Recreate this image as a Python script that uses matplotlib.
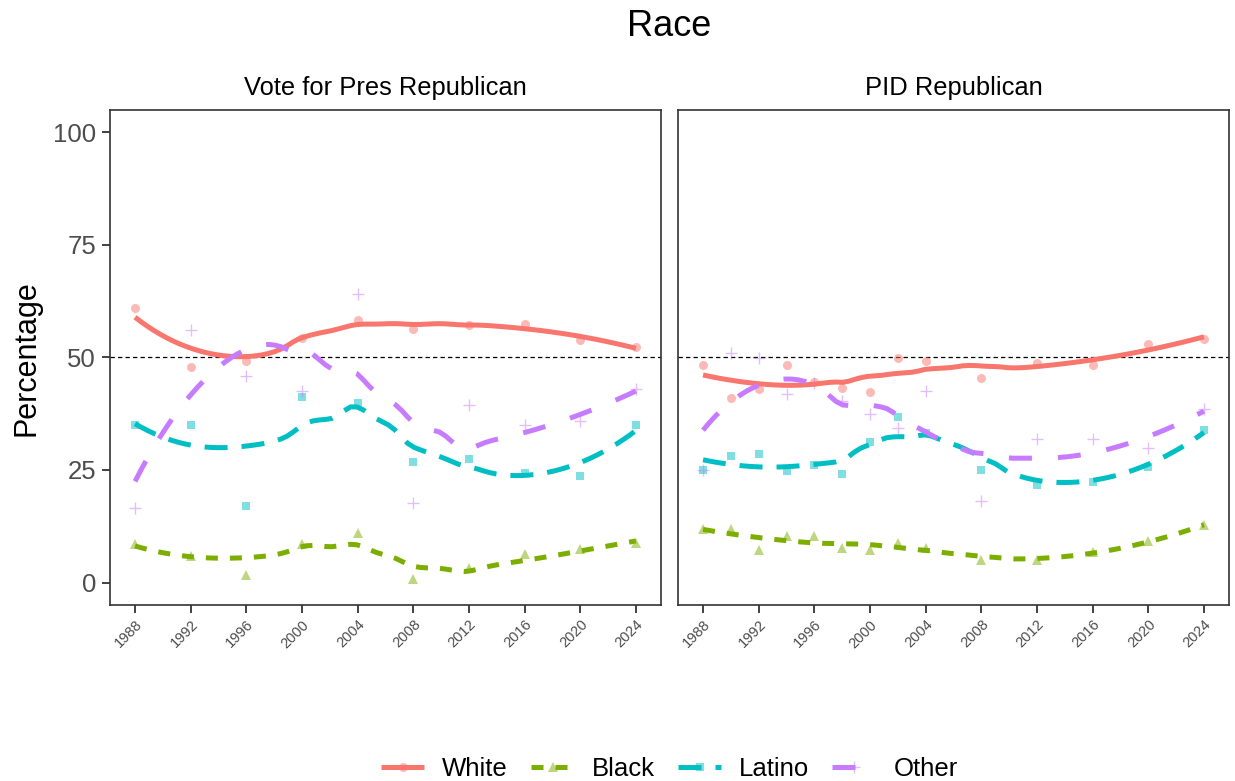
import numpy as np
import matplotlib.pyplot as plt
from matplotlib.lines import Line2D

plt.rcParams['font.family'] = ['Liberation Sans', 'DejaVu Sans']

# Vote for president: share voting Republican by race
years_vote = [1988, 1992, 1996, 2000, 2004, 2008, 2012, 2016, 2020, 2024]
vote_white = [61.0, 47.9, 49.3, 54.4, 58.4, 56.4, 57.2, 57.5, 53.8, 52.3]
vote_black = [8.6, 5.8, 1.6, 8.6, 10.9, 0.7, 3.3, 6.4, 7.5, 8.8]
vote_latino = [34.9, 35.1, 17.0, 41.3, 39.8, 26.8, 27.5, 24.4, 23.6, 35.1]
vote_other = [16.6, 56.2, 45.9, 42.5, 64.0, 17.7, 39.4, 35.1, 35.9, 42.9]

# Party ID: share identifying as Republican by race
years_pid = [1988, 1990, 1992, 1994, 1996, 1998, 2000, 2002, 2004,
             2008, 2012, 2016, 2020, 2024]
pid_white = [48.3, 41.0, 43.0, 48.3, 44.5, 43.3, 42.3, 49.8, 49.3,
             45.5, 48.8, 48.3, 53.0, 54.1]
pid_black = [11.9, 11.8, 7.3, 10.3, 10.3, 7.7, 7.3, 8.8, 7.7,
             5.0, 4.9, 6.8, 9.2, 12.7]
pid_latino = [25.1, 28.2, 28.6, 24.7, 26.1, 24.2, 31.3, 36.8, 33.3,
              24.9, 21.6, 22.4, 25.6, 33.8]
pid_other = [25.0, 51.0, 49.9, 42.0, 44.4, 40.4, 37.5, 34.4, 42.5,
             18.2, 31.8, 32.0, 29.8, 38.6]

groups = ['White', 'Black', 'Latino', 'Other']
colors = ['#F8766D', '#7CAE00', '#00BFC4', '#C77CFF']
markers = ['o', '^', 's', '+']
msizes = [6.5, 7.5, 6.0, 9.0]
dash_styles = [None, (2.4, 2.4), (4.6, 2.8), (4.6, 5.2)]

panels = [
    ('Vote for Pres Republican', years_vote,
     [vote_white, vote_black, vote_latino, vote_other]),
    ('PID Republican', years_pid,
     [pid_white, pid_black, pid_latino, pid_other]),
]


def loess(x, y, xs, span=0.75):
    # local quadratic fit with tricube weights (like R's loess defaults)
    x = np.asarray(x, float)
    y = np.asarray(y, float)
    n = len(x)
    q = int(np.floor(n * span + 1e-5))
    fit = []
    for x0 in xs:
        d = np.abs(x - x0)
        h = np.sort(d)[q - 1] * 1.0000001
        w = np.clip(1 - (d / h) ** 3, 0, None) ** 3
        X = np.vstack([np.ones(n), x - x0, (x - x0) ** 2]).T
        sw = np.sqrt(w)
        beta = np.linalg.lstsq(X * sw[:, None], y * sw, rcond=None)[0]
        fit.append(beta[0])
    return np.array(fit)


fig = plt.figure(figsize=(12.35, 7.81), dpi=100)
lw = 3.6
ax_pos = [[110 / 1235, 1 - 605 / 781, 551 / 1235, 495 / 781],
          [678 / 1235, 1 - 605 / 781, 551 / 1235, 495 / 781]]

for k, (title, yrs, series) in enumerate(panels):
    ax = fig.add_axes(ax_pos[k])
    xs = np.linspace(min(yrs), max(yrs), 80)
    ax.axhline(50, color='black', lw=0.9, ls=(0, (3.5, 2.5)), zorder=1)
    for i, vals in enumerate(series):
        if markers[i] == '+':
            ax.plot(yrs, vals, ls='none', marker='+', ms=msizes[i], mew=1.0,
                    color=colors[i], alpha=0.5, zorder=2)
        else:
            ax.plot(yrs, vals, ls='none', marker=markers[i], ms=msizes[i],
                    mew=0, color=colors[i], alpha=0.5, zorder=2)
    for i, vals in enumerate(series):
        ys = loess(yrs, vals, xs)
        ln, = ax.plot(xs, ys, color=colors[i], lw=lw, zorder=3,
                      solid_capstyle='butt', dash_capstyle='butt')
        if dash_styles[i] is not None:
            ln.set_dashes(dash_styles[i])

    ax.set_xlim(1986.2, 2025.8)
    ax.set_ylim(-5, 105)
    ax.set_xticks(range(1988, 2025, 4))
    ax.set_xticklabels([str(y) for y in range(1988, 2025, 4)], rotation=45,
                       ha='right', va='top', rotation_mode='anchor',
                       fontsize=10.5, color='#4D4D4D')
    ax.set_yticks([0, 25, 50, 75, 100])
    if k == 0:
        ax.set_yticklabels(['0', '25', '50', '75', '100'], fontsize=18.5,
                           color='#4D4D4D')
        ax.tick_params(axis='y', length=6, width=1.3, color='#333333', pad=4)
    else:
        ax.tick_params(axis='y', left=False, labelleft=False)
    ax.tick_params(axis='x', length=6, width=1.3, color='#333333', pad=3)
    for sp in ax.spines.values():
        sp.set_color('#333333')
        sp.set_linewidth(1.2)
    ax.set_title(title, fontsize=18.4, pad=11)

fig.text(669.5 / 1235, 1 - 26 / 781, 'Race', ha='center', va='center',
         fontsize=26)
fig.text(27 / 1235, 1 - 358 / 781, 'Percentage', rotation=90, ha='center',
         va='center', fontsize=22)

# legend keys: faint marker underneath the smoothing line
handles = []
for i, g in enumerate(groups):
    if markers[i] == '+':
        pt = Line2D([], [], ls='none', marker='+', ms=msizes[i], mew=1.0,
                    color=colors[i], alpha=0.5)
    else:
        pt = Line2D([], [], ls='none', marker=markers[i], ms=msizes[i],
                    mew=0, color=colors[i], alpha=0.5)
    ln = Line2D([], [], color=colors[i], lw=lw, solid_capstyle='butt',
                dash_capstyle='butt')
    if dash_styles[i] is not None:
        ln.set_dashes(dash_styles[i])
    handles.append((pt, ln))

fig.legend(handles, groups, loc='center', ncol=4,
           bbox_to_anchor=(669.5 / 1235, 1 - 769 / 781), frameon=False,
           fontsize=18.5, handlelength=1.67, handletextpad=0.7,
           columnspacing=0.9, borderpad=0)

fig.savefig('out.png', dpi=100)
